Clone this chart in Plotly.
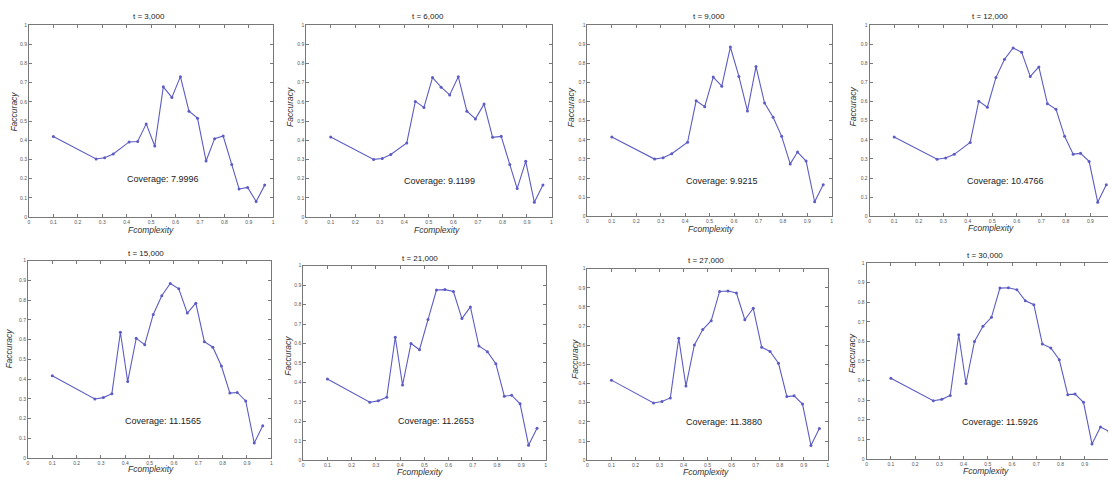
import plotly.graph_objects as go

W, H = 1110, 480

# ---------------- data ----------------
titles = ["t = 3,000", "t = 6,000", "t = 9,000", "t = 12,000",
          "t = 15,000", "t = 21,000", "t = 27,000", "t = 30,000"]
coverage = ["7.9996", "9.1199", "9.9215", "10.4766",
            "11.1565", "11.2653", "11.3880", "11.5926"]

x_a = [0.1, 0.275, 0.31, 0.345, 0.41, 0.445, 0.48, 0.515, 0.55, 0.585, 0.62,
       0.655, 0.69, 0.725, 0.76, 0.795, 0.83, 0.86, 0.895, 0.93, 0.965]
x_b = [0.1, 0.275, 0.31, 0.345, 0.38, 0.41, 0.445, 0.48, 0.515, 0.55, 0.585, 0.62,
       0.655, 0.69, 0.725, 0.76, 0.795, 0.83, 0.86, 0.895, 0.93, 0.965]
x_c = x_b + [1.0]

y1 = [0.419, 0.302, 0.309, 0.328, 0.391, 0.393, 0.485, 0.370, 0.678, 0.623, 0.731,
      0.551, 0.515, 0.292, 0.408, 0.422, 0.274, 0.146, 0.154, 0.081, 0.166]
y2 = [0.417, 0.300, 0.305, 0.326, 0.386, 0.602, 0.571, 0.726, 0.676, 0.636, 0.731,
      0.551, 0.511, 0.588, 0.415, 0.420, 0.273, 0.148, 0.290, 0.077, 0.166]
y3 = [0.415, 0.299, 0.306, 0.327, 0.387, 0.604, 0.573, 0.728, 0.680, 0.885, 0.731,
      0.551, 0.783, 0.592, 0.518, 0.418, 0.274, 0.336, 0.289, 0.076, 0.165]
y4 = [0.415, 0.298, 0.305, 0.324, 0.386, 0.602, 0.570, 0.725, 0.821, 0.880, 0.857,
      0.731, 0.781, 0.589, 0.559, 0.418, 0.325, 0.329, 0.287, 0.074, 0.165]
y5 = [0.418, 0.300, 0.307, 0.327, 0.638, 0.388, 0.607, 0.575, 0.728, 0.823, 0.885, 0.858,
      0.735, 0.785, 0.590, 0.562, 0.467, 0.330, 0.333, 0.290, 0.077, 0.165]
y6 = [0.417, 0.298, 0.305, 0.324, 0.632, 0.386, 0.600, 0.568, 0.723, 0.875, 0.877, 0.867,
      0.728, 0.788, 0.587, 0.558, 0.496, 0.329, 0.334, 0.290, 0.077, 0.164]
y7 = [0.418, 0.299, 0.306, 0.325, 0.637, 0.387, 0.602, 0.682, 0.728, 0.881, 0.883, 0.873,
      0.733, 0.793, 0.590, 0.568, 0.506, 0.332, 0.336, 0.293, 0.077, 0.165]
y8 = [0.412, 0.297, 0.304, 0.324, 0.634, 0.385, 0.600, 0.677, 0.723, 0.872, 0.874, 0.864,
      0.807, 0.787, 0.587, 0.566, 0.506, 0.328, 0.331, 0.289, 0.076, 0.163, 0.14]

xs = [x_a, x_a, x_a, x_a, x_b, x_b, x_b, x_c]
ys = [y1, y2, y3, y4, y5, y6, y7, y8]

tick_vals = [0, 0.1, 0.2, 0.3, 0.4, 0.5, 0.6, 0.7, 0.8, 0.9, 1]
tick_text = ["0", "0.1", "0.2", "0.3", "0.4", "0.5", "0.6", "0.7", "0.8", "0.9", "1"]

# ---------------- layout (pixel boxes) ----------------
# (left, right, top, bottom, xmax)
boxes = [
    (28, 273, 22.3, 216.7, 1.0),
    (306, 552, 22.3, 216.7, 1.0),
    (588, 833, 22.3, 216.0, 1.0),
    (871, 1110, 22.3, 216.0, 0.972),
    (27, 271, 261, 461, 1.0),
    (303, 546, 266, 463, 1.0),
    (588, 829, 269, 463, 1.0),
    (868, 1110, 263.3, 461.7, 0.996),
]
title_pos = [(148, 14), (428, 14), (710, 14), (992, 14),
             (145, 254), (420, 259), (707, 261), (987, 256)]
cov_pos = [(162, 178), (440, 180), (723, 180), (1007, 180),
           (162, 423), (436, 423), (725, 424), (1002, 424)]
xt_pos = [(150, 230), (437, 230), (712, 229), (993, 228),
          (150, 472), (420, 475), (707, 475), (988, 474)]
yt_pos = [(13, 110), (289, 105), (571, 105), (854, 105),
          (8, 350), (287, 357), (575, 360), (853, 355)]

LINE = "rgb(92,92,196)"
GRID = "rgb(120,120,120)"
FONT = "Liberation Sans, Arial, sans-serif"

fig = go.Figure()
annotations = []

def px(x):
    return x / W

def py(y):
    return 1 - y / H

def note(x, y, text, size, color, angle=0):
    return dict(x=px(x), y=py(y), xref="paper", yref="paper",
                xanchor="center", yanchor="middle", text=text,
                showarrow=False, textangle=angle,
                font=dict(size=size, color=color, family=FONT))

for i in range(8):
    k = "" if i == 0 else str(i + 1)
    l, r, t, b, xmax = boxes[i]
    fig.add_trace(go.Scatter(
        x=xs[i], y=ys[i], mode="lines+markers",
        line=dict(color=LINE, width=1.1),
        marker=dict(color=LINE, size=3),
        xaxis="x" + k, yaxis="y" + k, showlegend=False,
        hoverinfo="skip",
    ))
    clipped = xmax < 1.0
    fig.layout["xaxis" + k] = dict(
        domain=[px(l), px(r)], range=[0, xmax], anchor="y" + k,
        tickvals=tick_vals, ticktext=tick_text, ticks="inside", ticklen=3,
        tickcolor=GRID, showline=True, linecolor=GRID, linewidth=1,
        mirror="ticks", showgrid=False, zeroline=False,
        tickfont=dict(size=5, color="#555", family=FONT),
    )
    fig.layout["yaxis" + k] = dict(
        domain=[py(b), py(t)], range=[0, 1], anchor="x" + k,
        tickvals=tick_vals, ticktext=tick_text, ticks="inside", ticklen=3,
        tickcolor=GRID, showline=True, linecolor=GRID, linewidth=1,
        mirror=False if clipped else "ticks", showgrid=False, zeroline=False,
        tickfont=dict(size=5, color="#555", family=FONT),
    )
    tx, ty = title_pos[i]
    annotations.append(note(tx, ty, titles[i], 8, "#222"))
    cx, cy = cov_pos[i]
    annotations.append(note(cx, cy, "Coverage: " + coverage[i], 9, "#222"))
    ax_, ay_ = xt_pos[i]
    annotations.append(note(ax_, ay_, "<i>Fcomplexity</i>", 8.5, "#333"))
    bx, by = yt_pos[i]
    annotations.append(note(bx, by, "<i>Faccuracy</i>", 8.5, "#333", -90))

fig.update_layout(
    width=W, height=H, margin=dict(l=0, r=0, t=0, b=0),
    paper_bgcolor="white", plot_bgcolor="white",
    annotations=annotations, showlegend=False,
)

fig.write_html("out.html")
